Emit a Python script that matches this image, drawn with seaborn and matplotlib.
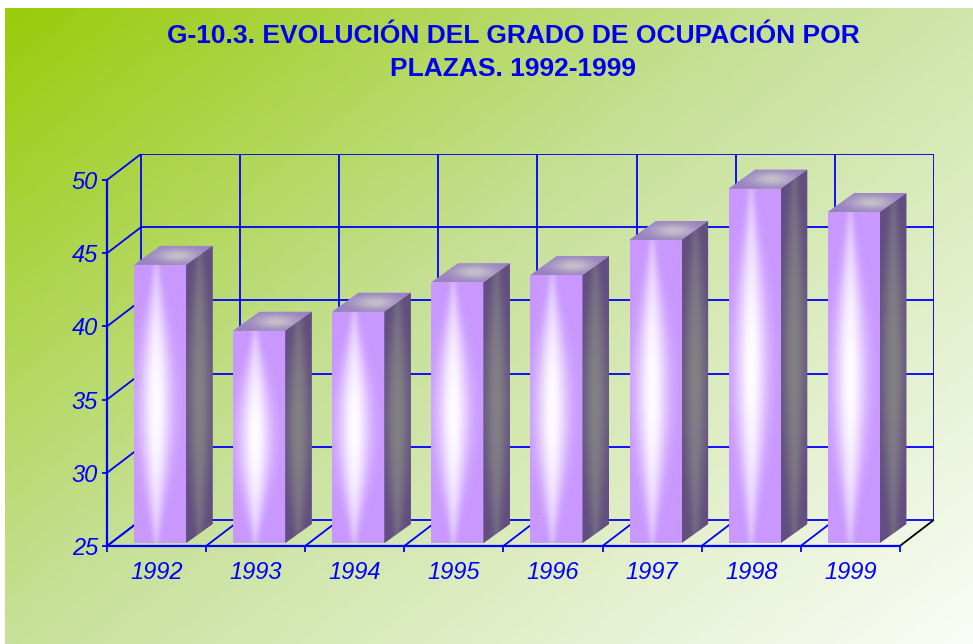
import numpy as np
import matplotlib
matplotlib.use('Agg')
import matplotlib.pyplot as plt
import seaborn as sns
import pandas as pd
from matplotlib.patches import Polygon
from matplotlib.colors import LinearSegmentedColormap

# ---------------- data ----------------
years = ['1992', '1993', '1994', '1995', '1996', '1997', '1998', '1999']
values = [44.0, 39.5, 40.8, 42.8, 43.3, 45.7, 49.2, 47.6]
yticks = [25, 30, 35, 40, 45, 50]
title_line1 = 'G-10.3. EVOLUCIÓN DEL GRADO DE OCUPACIÓN POR'
title_line2 = 'PLAZAS. 1992-1999'

sns.set_theme(style='white')
plt.rcParams['font.family'] = ['Liberation Sans', 'DejaVu Sans']

W, H = 973, 644
fig = plt.figure(figsize=(W / 100, H / 100), dpi=100)
fig.patch.set_facecolor('white')

# ---------------- background gradient ----------------
bg = fig.add_axes([5 / W, 0, (W - 5) / W, (H - 8) / H])
bg.set_axis_off()
nx, ny = 400, 260
xx, yy = np.meshgrid(np.linspace(0, 1, nx), np.linspace(0, 1, ny))
t = np.clip((xx * 0.55 + yy * 0.45), 0, 1)
bg_cmap = LinearSegmentedColormap.from_list(
    'bg', [(0.0, (0.60, 0.80, 0.04)), (0.45, (0.78, 0.88, 0.60)),
           (1.0, (0.98, 0.99, 0.97))])
bg.imshow(bg_cmap(t), aspect='auto', extent=[0, 1, 0, 1], origin='upper',
          interpolation='bilinear')
bg.set_xlim(0, 1)
bg.set_ylim(0, 1)

# ---------------- main axes ----------------
PX_CAT = 99.1
PX_UNIT = 14.64
dxw = 34 / PX_CAT
dyw = 26 / PX_UNIT
sx = 3.5 / PX_CAT
sy = 3.0 / PX_UNIT
bdx = 26.5 / PX_CAT
bdy = 19.0 / PX_UNIT

ax = fig.add_axes([107 / W, (H - 546) / H, (8 * PX_CAT + 34) / W,
                   (25 * PX_UNIT + 26) / H])
ax.patch.set_alpha(0)

df = pd.DataFrame({'year': years, 'value': values})
sns.barplot(data=df, x='year', y='value', order=years, ax=ax, width=0.525,
            color='#c89bff', saturation=1, zorder=2)

blue = '#0000ff'
glw = 1.3
# back wall, left wall and floor lines
for v in yticks:
    ax.plot([-0.5 + dxw, 7.5 + dxw], [v + dyw, v + dyw], color=blue, lw=glw,
            zorder=1, solid_capstyle='butt')
    ax.plot([-0.5, -0.5 + dxw], [v, v + dyw], color=blue, lw=glw, zorder=1)
for k in range(9):
    ax.plot([-0.5 + k + dxw] * 2, [25 + dyw, 50 + dyw], color=blue, lw=glw,
            zorder=1)
    ax.plot([-0.5 + k, -0.5 + k + dxw], [25, 25 + dyw],
            color=('black' if k == 8 else blue), lw=glw, zorder=1)

# bars: gradient faces
lav = np.array([200, 152, 255]) / 255
white = np.array([1.0, 0.99, 1.0])


def front_img(n_u=80, n_v=200):
    u, v = np.meshgrid(np.linspace(0, 1, n_u), np.linspace(0, 1, n_v))
    s = np.sin(np.pi * v)
    w = 0.07 + 0.22 * s ** 1.3
    amp = 0.25 + 0.75 * s ** 0.8
    I = amp * np.exp(-((u - 0.42) / w) ** 2)
    img = lav[None, None, :] * (1 - I[..., None]) + white[None, None, :] * I[..., None]
    return np.clip(img, 0, 1)


def side_img(n_u=40, n_v=200):
    u, v = np.meshgrid(np.linspace(0, 1, n_u), np.linspace(0, 1, n_v))
    s = np.sin(np.pi * np.clip(v, 0, 1))
    w = 0.14 + 0.28 * s ** 1.2
    I = (0.35 + 0.65 * s ** 0.8) * np.exp(-((u - 0.5) / w) ** 2)
    dark = np.array([98, 78, 128]) / 255
    grey = np.array([130, 129, 132]) / 255
    return dark * (1 - I[..., None]) + grey * I[..., None]


def top_img(n_u=60, n_v=30):
    u, v = np.meshgrid(np.linspace(0, 1, n_u), np.linspace(0, 1, n_v))
    I = np.exp(-((u - 0.55) / 0.28) ** 2 - ((v - 0.5) / 0.38) ** 2)
    edge = np.array([152, 128, 192]) / 255
    cen = np.array([196, 192, 202]) / 255
    return edge * (1 - I[..., None]) + cen * I[..., None]


F = front_img()
S = side_img()
T = top_img()
for p, val in zip(ax.patches, values):
    x0 = p.get_x() + sx
    bw = p.get_width()
    y0 = 25 + sy
    y1 = val + sy
    p.set_x(x0)
    p.set_y(y0)
    p.set_height(val - 25)
    p.set_edgecolor('none')
    p.set_zorder(2)
    im = ax.imshow(F, extent=[x0, x0 + bw, y0, y1], origin='lower',
                   aspect='auto', interpolation='bilinear', zorder=3)
    im.set_clip_path(p)
    x1 = x0 + bw
    side = Polygon([(x1, y0), (x1 + bdx, y0 + bdy), (x1 + bdx, y1 + bdy), (x1, y1)],
                   closed=True, facecolor='#6b5a88', edgecolor='none', zorder=2)
    ax.add_patch(side)
    ims = ax.imshow(S, extent=[x1, x1 + bdx, y0, y1 + bdy], origin='lower',
                    aspect='auto', interpolation='bilinear', zorder=3)
    ims.set_clip_path(side)
    top = Polygon([(x0, y1), (x1, y1), (x1 + bdx, y1 + bdy), (x0 + bdx, y1 + bdy)],
                  closed=True, facecolor='#a890c8', edgecolor='none', zorder=2)
    ax.add_patch(top)
    imt = ax.imshow(T, extent=[x0, x1 + bdx, y1, y1 + bdy], origin='lower',
                    aspect='auto', interpolation='bilinear', zorder=3)
    imt.set_clip_path(top)

ax.set_xlim(-0.5, 7.5 + dxw)
ax.set_ylim(25, 50 + dyw)
ax.set_aspect('auto')

# spines / ticks
for s in ['top', 'right']:
    ax.spines[s].set_visible(False)
ax.spines['left'].set_bounds(25, 50)
ax.spines['bottom'].set_bounds(-0.5, 7.5)
for s in ['left', 'bottom']:
    ax.spines[s].set_color(blue)
    ax.spines[s].set_linewidth(1.6)
    ax.spines[s].set_zorder(4)

ax.set_yticks(yticks)
ax.set_yticklabels([str(v) for v in yticks])
ax.set_xticks(range(len(years)))
ax.set_xticklabels(years)
ax.set_xticks(np.arange(-0.5, 8, 1.0), minor=True)
ax.tick_params(axis='y', which='major', left=True, length=3.5, width=1.3,
               color=blue, labelcolor=blue, labelsize=17, pad=3)
ax.tick_params(axis='x', which='major', bottom=True, length=0, labelcolor=blue,
               labelsize=17, pad=10.5)
ax.tick_params(axis='x', which='minor', bottom=True, length=4, width=1.3,
               color=blue)
for lbl in ax.get_xticklabels() + ax.get_yticklabels():
    lbl.set_fontstyle('italic')
ax.set_xlabel('')
ax.set_ylabel('')
ax.grid(False)

# title
fig.text(513 / W, 1 - 36 / H, title_line1, ha='center', va='center',
         fontsize=19, fontweight='bold', color='#0000ee')
fig.text(513 / W, 1 - 69 / H, title_line2, ha='center', va='center',
         fontsize=19, fontweight='bold', color='#0000ee')

fig.savefig('out.png', dpi=100)
